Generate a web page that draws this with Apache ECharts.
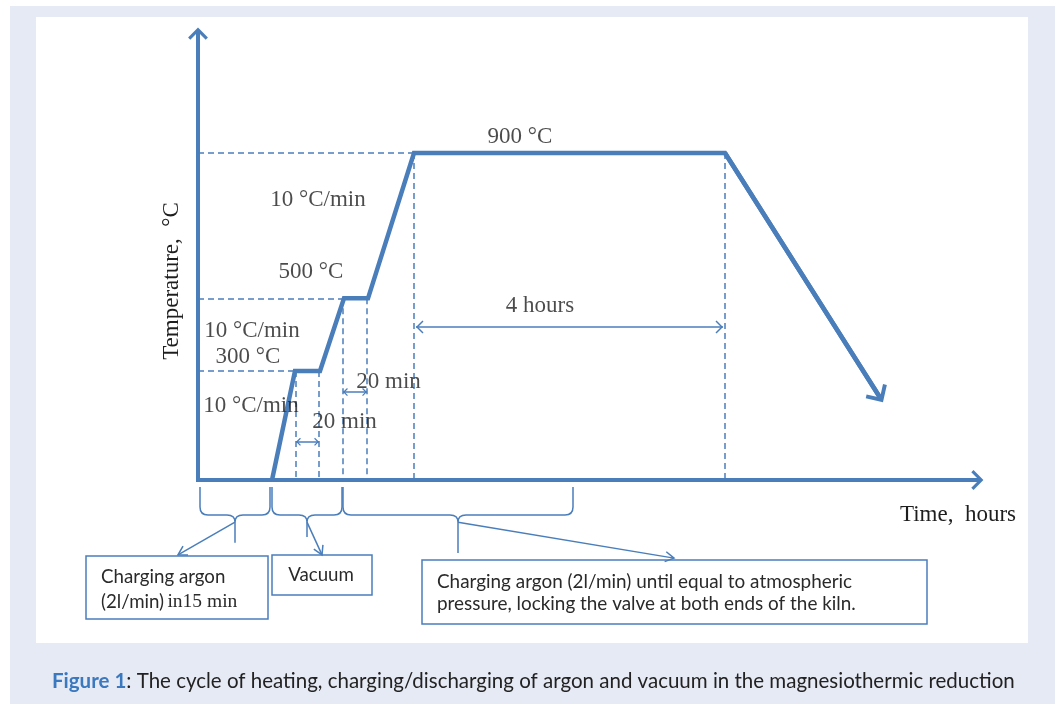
<!DOCTYPE html>
<html><head><meta charset="utf-8">
<script src="https://cdn.jsdelivr.net/npm/echarts@6/dist/echarts.min.js"></script>
<style>
html,body{margin:0;padding:0;background:#fff;width:1055px;height:704px;overflow:hidden}
#bg{position:absolute;left:10px;top:6px;right:0;bottom:0;background:#e6eaf5}
#panel{position:absolute;left:36px;top:17px;width:992px;height:626px;background:#fff}
#chart{position:absolute;left:0;top:0;width:1055px;height:704px}
</style></head><body>
<div id="bg"></div><div id="panel"></div><div id="chart"></div>
<script>
// Heating profile (schematic time units, temperature in °C)
const stepTime = [7.4, 9.7, 12.2, 14.6, 17.0, 21.6, 52.7, 68.2];
const stepTemp = [0, 300, 300, 500, 500, 900, 900, 227];

// Dashed guide lines
const hGuideTemp = [900, 500, 300];
const hGuideEnd = [21.6, 14.6, 9.7];
const vGuideTime = [9.8, 12.1, 14.5, 16.9, 21.6, 52.7];
const vGuideTop = [300, 300, 500, 500, 900, 900];

// Double-headed duration arrows
const spanFrom = [9.8, 14.5, 21.8];
const spanTo = [12.1, 16.9, 52.5];
const spanTemp = [105, 242, 421];

// Text annotations
const labelText = ['900 °C', '10 °C/min', '500 °C', '10 °C/min', '300 °C', '10 °C/min', '20 min', '20 min', '4 hours'];
const labelTime = [32.2, 12.0, 11.3, 5.4, 5.0, 5.3, 19.05, 14.65, 34.2];
const labelTemp = [944, 771, 572, 410, 339, 204, 270, 160, 479];

// Braces below the time axis and their pointer arrows
const braceStart = [0.2, 7.4, 14.5];
const braceEnd = [7.2, 14.4, 37.5];
const braceStemTemp = [-173, -157, -201];
const braceTipTemp = -116;
const pointerTime = [-2.0, 12.4, 47.6];
const pointerTemp = [-206, -206, -215];

// Phase boxes
const boxText = [
  '{s|Charging argon}\n{s|(2l/min)} {r|in15 min}',
  '{s|Vacuum}',
  '{s|Charging argon (2l/min) until equal to atmospheric}\n{s|pressure, locking the valve at both ends of the kiln.}'
];

const BLUE = '#4a7ebb';
const TXT = '#1e1e1e';
const SERIF = '"Liberation Serif", "Times New Roman", serif';
const SANS = 'Lato, "Open Sans", sans-serif';

const CHEV_BOLD = 'path://M0,-3L0.01,-3L0,-2.99Z M0,0L9,9L7,11L0,4L-7,11L-9,9Z';
const CHEV_THIN = 'path://M0,-10.4L0.01,-10.4L0,-10.39Z M0,0L9,9L7.6,10.4L0,2.8L-7.6,10.4L-9,9Z';
const CHEV_SMALL = 'path://M0,-11L0.01,-11L0,-10.99Z M0,0L9,9L7,11L0,4L-7,11L-9,9Z';

const chart = echarts.init(document.getElementById('chart'), null, {renderer: 'canvas'});

const guideLines = [];
hGuideTemp.forEach((t, i) => guideLines.push([{coord: [0, t]}, {coord: [hGuideEnd[i], t]}]));
vGuideTime.forEach((x, i) => guideLines.push([{coord: [x, vGuideTop[i]]}, {coord: [x, 0]}]));

const spanLines = spanFrom.map((x, i) => {
  const big = i === 2;
  const sym = big ? CHEV_THIN : CHEV_SMALL;
  const size = big ? [13, 15] : [8, 9.8];
  return [
    {coord: [x, spanTemp[i]], symbol: sym, symbolSize: size},
    {coord: [spanTo[i], spanTemp[i]], symbol: sym, symbolSize: size}
  ];
});

const n = stepTime.length;

function braceItem(params, api) {
  const x0 = api.value(0), x1 = api.value(1), stemT = api.value(2);
  const px = api.value(3), pt = api.value(4);
  const p0 = api.coord([x0, 0]), p1 = api.coord([x1, 0]);
  const cxData = (x0 + x1) / 2;
  const ax = p0[1];
  const top = ax + 7, mid = ax + 35;
  const tipP = api.coord([cxData, braceTipTemp]);
  const cx = tipP[0], tip = tipP[1];
  const stem = api.coord([cxData, stemT])[1];
  const r = 8;
  const L = p0[0], R = p1[0];
  const d = 'M' + L + ',' + top + ' L' + L + ',' + (mid - r) +
    ' Q' + L + ',' + mid + ' ' + (L + r) + ',' + mid +
    ' L' + (cx - r) + ',' + mid +
    ' Q' + cx + ',' + mid + ' ' + cx + ',' + tip +
    ' Q' + cx + ',' + mid + ' ' + (cx + r) + ',' + mid +
    ' L' + (R - r) + ',' + mid +
    ' Q' + R + ',' + mid + ' ' + R + ',' + (mid - r) +
    ' L' + R + ',' + top +
    ' M' + cx + ',' + (tip - 2) + ' L' + cx + ',' + stem;
  // pointer arrow from brace tip to box
  const end = api.coord([px, pt]);
  const dx = cx - end[0], dy = tip - end[1];
  const len = Math.sqrt(dx * dx + dy * dy);
  const ux = dx / len, uy = dy / len;
  const hl = 10, ang = Math.PI / 6;
  const c = Math.cos(ang), s = Math.sin(ang);
  const a1 = [end[0] + hl * (ux * c - uy * s), end[1] + hl * (ux * s + uy * c)];
  const a2 = [end[0] + hl * (ux * c + uy * s), end[1] + hl * (-ux * s + uy * c)];
  const st = {fill: 'none', stroke: BLUE, lineWidth: 1.5};
  return {
    type: 'group',
    children: [
      {type: 'path', shape: {pathData: d}, style: st},
      {type: 'line', shape: {x1: cx, y1: tip, x2: end[0], y2: end[1]}, style: st},
      {type: 'polyline', shape: {points: [a1, end, a2]}, style: st}
    ]
  };
}

const option = {
  animation: false,
  grid: {left: 198, right: 76, top: 32, bottom: 224, containLabel: false, outerBoundsMode: 'none'},
  xAxis: {
    type: 'value', min: 0, max: 78.1,
    axisLine: {show: true, onZero: true, symbol: ['none', CHEV_BOLD], symbolSize: [19.8, 15.4],
      lineStyle: {color: BLUE, width: 4, cap: 'square'}},
    axisTick: {show: false}, axisLabel: {show: false}, splitLine: {show: false},
    name: 'Time,  hours', nameLocation: 'end', nameGap: 37,
    nameTextStyle: {fontFamily: SERIF, fontSize: 23, color: TXT, align: 'right', verticalAlign: 'top', padding: [23, 0, 0, 0]}
  },
  yAxis: {
    type: 'value', min: 0, max: 1233,
    axisLine: {show: true, symbol: ['none', CHEV_BOLD], symbolSize: [19.8, 15.4],
      lineStyle: {color: BLUE, width: 4, cap: 'square'}},
    axisTick: {show: false}, axisLabel: {show: false}, splitLine: {show: false},
    name: 'Temperature,  °C', nameLocation: 'middle', nameRotate: 90, nameGap: 15,
    nameTextStyle: {fontFamily: SERIF, fontSize: 23, color: TXT, padding: [0, 50, 0, 0]}
  },
  series: [
    {
      type: 'line', name: 'guides', data: [], silent: true, z: 2,
      markLine: {silent: true, symbol: 'none', label: {show: false},
        lineStyle: {color: BLUE, width: 1.5, type: [6, 4]}, data: guideLines}
    },
    {
      type: 'custom', name: 'braces', silent: true, z: 2, clip: false,
      data: braceStart.map((s, i) => [s, braceEnd[i], braceStemTemp[i], pointerTime[i], pointerTemp[i]]),
      renderItem: braceItem
    },
    {
      type: 'line', name: 'spans', data: [], silent: true, z: 3,
      markLine: {silent: true, label: {show: false},
        lineStyle: {color: BLUE, width: 1.5, type: 'solid'}, data: spanLines}
    },
    {
      type: 'line', name: 'temperature', z: 5, silent: true,
      data: stepTime.map((t, i) => [t, stepTemp[i]]),
      symbol: 'none',
      lineStyle: {color: BLUE, width: 4.5, join: 'miter'},
      markLine: {silent: true, symbol: ['none', CHEV_BOLD], symbolSize: [25, 19.4], label: {show: false},
        lineStyle: {color: BLUE, width: 4.5, type: 'solid'},
        data: [[{coord: [stepTime[n - 2], stepTemp[n - 2]]}, {coord: [stepTime[n - 1], stepTemp[n - 1]]}]]}
    },
    {
      type: 'scatter', name: 'labels', symbolSize: 0, silent: true, z: 6,
      data: labelText.map((t, i) => ({name: t, value: [labelTime[i], labelTemp[i]]})),
      label: {show: true, position: 'inside', formatter: '{b}', fontFamily: SERIF, fontSize: 23, color: TXT}
    }
  ],
  graphic: [
    {type: 'rect', shape: {x: 86, y: 556, width: 182, height: 63}, style: {fill: '#fff', stroke: BLUE, lineWidth: 1.5}},
    {type: 'text', x: 101, y: 589.5, style: {text: boxText[0], verticalAlign: 'middle', align: 'left',
      rich: {s: {fontFamily: SANS, fontSize: 18.7, lineHeight: 25, fill: '#2a2a2a'}, r: {fontFamily: SERIF, fontSize: 19.5, lineHeight: 25, fill: '#2a2a2a'}}}},
    {type: 'rect', shape: {x: 272, y: 555, width: 100, height: 40}, style: {fill: '#fff', stroke: BLUE, lineWidth: 1.5}},
    {type: 'text', x: 321, y: 575, style: {text: boxText[1], verticalAlign: 'middle', align: 'center',
      rich: {s: {fontFamily: SANS, fontSize: 18.7, lineHeight: 22, fill: '#2a2a2a'}}}},
    {type: 'rect', shape: {x: 422, y: 560, width: 505, height: 64}, style: {fill: '#fff', stroke: BLUE, lineWidth: 1.5}},
    {type: 'text', x: 437, y: 593, style: {text: boxText[2], verticalAlign: 'middle', align: 'left',
      rich: {s: {fontFamily: SANS, fontSize: 18.9, lineHeight: 22, fill: '#2a2a2a'}}}},
    {type: 'text', x: 52, y: 681, style: {
      text: '{b|Figure 1}{n|: The cycle of heating, charging/discharging of argon and vacuum in the magnesiothermic reduction}',
      verticalAlign: 'middle', align: 'left',
      rich: {b: {fontFamily: SANS, fontSize: 20.5, fontWeight: 'bold', fill: '#3a78c0'}, n: {fontFamily: SANS, fontSize: 20.5, fill: '#222'}}}}
  ]
};
chart.setOption(option);
</script></body></html>
